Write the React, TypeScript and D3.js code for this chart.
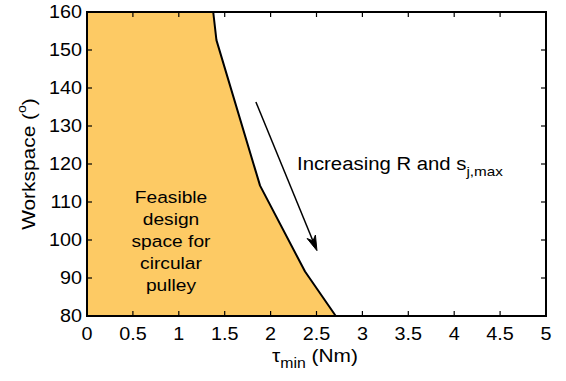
import React from "react";
import * as d3 from "d3";

const boundaryTau = [1.375, 1.41, 1.885, 2.375, 2.71];
const boundaryWs = [160, 152.6, 114.3, 91.7, 80];
const xTicks = [0, 0.5, 1, 1.5, 2, 2.5, 3, 3.5, 4, 4.5, 5];
const yTicks = [80, 90, 100, 110, 120, 130, 140, 150, 160];
const arrowTau = [1.84, 2.505];
const arrowWs = [136.3, 97.2];
const feasibleLines = ["Feasible", "design", "space for", "circular", "pulley"];

const W = 566, H = 381;
const M = { left: 87, right: 546, top: 12, bottom: 316 };
const FONT = "'Liberation Sans', Arial, Helvetica, sans-serif";
const SX = 1.13;

export default function App() {
  const x = d3.scaleLinear().domain([0, 5]).range([M.left, M.right]);
  const y = d3.scaleLinear().domain([80, 160]).range([M.bottom, M.top]);

  const pts: [number, number][] = boundaryTau.map((t, i) => [t, boundaryWs[i]]);
  const areaPts: [number, number][] = [[0, 160], ...pts, [0, 80]];
  const areaPath = d3.line<[number, number]>().x(d => x(d[0])).y(d => y(d[1]))(areaPts) + "Z";
  const linePath = d3.line<[number, number]>().x(d => x(d[0])).y(d => y(d[1]))(pts) || "";

  const ax0 = x(arrowTau[0]), ay0 = y(arrowWs[0]);
  const ax1 = x(arrowTau[1]), ay1 = y(arrowWs[1]);
  const ang = Math.atan2(ay1 - ay0, ax1 - ax0);
  const hl = 15, hw = 4.5;
  const bx = ax1 - hl * Math.cos(ang), by = ay1 - hl * Math.sin(ang);
  const px = -Math.sin(ang), py = Math.cos(ang);
  const head = `M${ax1},${ay1}L${bx + hw * px},${by + hw * py}L${ax1 - 0.7 * hl * Math.cos(ang)},${ay1 - 0.7 * hl * Math.sin(ang)}L${bx - hw * px},${by - hw * py}Z`;

  const tl = 5;
  const fx = 171;
  return (
    <svg width={W} height={H} style={{ display: "block", position: "absolute", left: 0, top: 0 }} fontFamily={FONT}>
      <rect width={W} height={H} fill="#fff" />
      <path d={areaPath} fill="#FDCA64" stroke="none" />
      <path d={linePath} fill="none" stroke="#000" strokeWidth={2} strokeLinejoin="round" />
      {xTicks.map(t => (
        <g key={"xt" + t}>
          <line x1={x(t)} x2={x(t)} y1={M.bottom} y2={M.bottom - tl} stroke="#000" strokeWidth={1.2} />
          <line x1={x(t)} x2={x(t)} y1={M.top} y2={M.top + tl} stroke="#000" strokeWidth={1.2} />
          <g transform={`translate(${x(t)},334) scale(${SX},1)`}>
            <text fontSize={17.5} textAnchor="middle" dominantBaseline="central">{String(t)}</text>
          </g>
        </g>
      ))}
      {yTicks.map(t => (
        <g key={"yt" + t}>
          <line x1={M.left} x2={M.left + tl} y1={y(t)} y2={y(t)} stroke="#000" strokeWidth={1.2} />
          <line x1={M.right} x2={M.right - tl} y1={y(t)} y2={y(t)} stroke="#000" strokeWidth={1.2} />
          <g transform={`translate(82,${y(t)}) scale(${SX},1)`}>
            <text fontSize={17.5} textAnchor="end" dominantBaseline="central">{String(t)}</text>
          </g>
        </g>
      ))}
      <rect x={M.left} y={M.top} width={M.right - M.left} height={M.bottom - M.top} fill="none" stroke="#000" strokeWidth={2} />
      <line x1={ax0} y1={ay0} x2={bx + 0.3 * hl * Math.cos(ang)} y2={by + 0.3 * hl * Math.sin(ang)} stroke="#000" strokeWidth={1.5} />
      <path d={head} fill="#000" stroke="#000" strokeWidth={1} strokeLinejoin="miter" />
      <g transform={`translate(297,170) scale(${SX},1)`}>
        <text fontSize={18}>
          Increasing R and s
          <tspan fontSize={13.5} dy={6}>j,max</tspan>
        </text>
      </g>
      {feasibleLines.map((s, i) => (
        <g key={s} transform={`translate(${fx},${197 + i * 22.2}) scale(${SX},1)`}>
          <text fontSize={17} textAnchor="middle" dominantBaseline="central">{s}</text>
        </g>
      ))}
      <g transform={`translate(272,362) scale(${SX},1)`}>
        <text fontSize={18.5}>
          τ<tspan fontSize={14} dy={6}>min</tspan><tspan dy={-6}> (Nm)</tspan>
        </text>
      </g>
      <g transform={`translate(28,${(M.top + M.bottom) / 2}) rotate(-90) scale(${SX},1)`}>
        <text fontSize={18.5} textAnchor="middle" dominantBaseline="central">
          Workspace (<tspan fontSize={12.5} dy={-7}>o</tspan><tspan dy={7}>)</tspan>
        </text>
      </g>
    </svg>
  );
}
